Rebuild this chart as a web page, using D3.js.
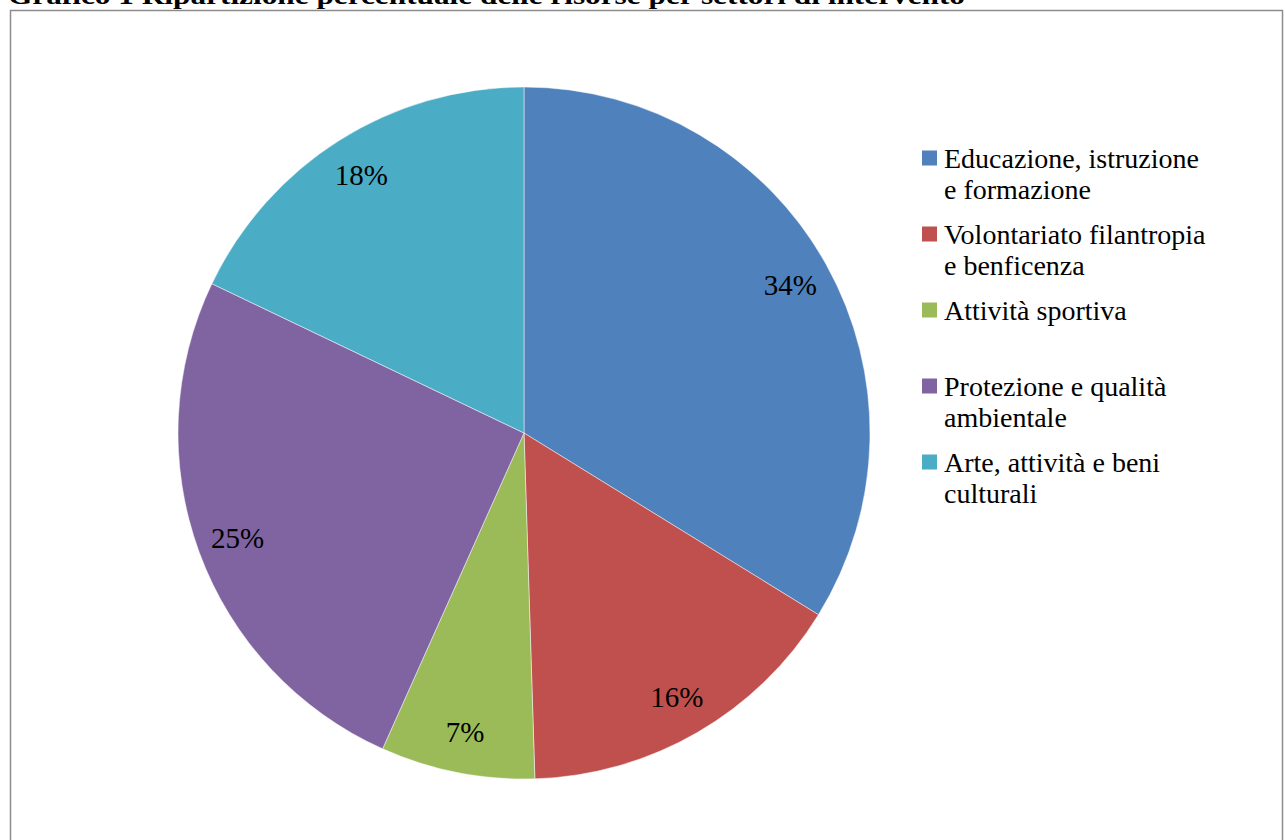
<!DOCTYPE html>
<html>
<head>
<meta charset="utf-8">
<script src="https://cdn.jsdelivr.net/npm/d3@7"></script>
<style>
  body { margin: 0; background: #fff; }
  svg { display: block; }
</style>
</head>
<body>
<div id="chart"></div>
<script>
// Data (shares in %)
const categories = [
  "Educazione, istruzione e formazione",
  "Volontariato filantropia e benficenza",
  "Attività sportiva",
  "Protezione e qualità ambientale",
  "Arte, attività e beni culturali"
];
const legendLines = [
  ["Educazione, istruzione", "e formazione"],
  ["Volontariato filantropia", "e benficenza"],
  ["Attività sportiva"],
  ["Protezione e qualità", "ambientale"],
  ["Arte, attività e beni", "culturali"]
];
const values = [33.8, 15.7, 7.2, 25.4, 17.9];
const percentLabels = ["34%", "16%", "7%", "25%", "18%"];
const colors = ["#4F81BD", "#C0504D", "#9BBB59", "#8064A2", "#4BACC6"];

const width = 1285;
const height = 840;
const serif = "'Liberation Serif', 'DejaVu Serif', serif";

const svg = d3.select("#chart")
  .append("svg")
    .attr("width", width)
    .attr("height", height);

// Title (cut off at the top in the original)
svg.append("text")
    .attr("x", 8)
    .attr("y", 4)
    .attr("textLength", 957)
    .attr("lengthAdjust", "spacingAndGlyphs")
    .style("font-family", serif)
    .style("font-weight", "bold")
    .style("font-size", "26px")
    .text("Grafico 1 Ripartizione percentuale delle risorse per settori di intervento");

// Chart area frame
svg.append("rect")
    .attr("x", 10.5)
    .attr("y", 10.5)
    .attr("width", 1272)
    .attr("height", 900)
    .attr("fill", "none")
    .attr("stroke", "#8c8c8c")
    .attr("stroke-width", 1.5);

const cx = 524, cy = 433, radius = 346;

const pie = d3.pie().sort(null).value(d => d);
const arcs = pie(values);
const arc = d3.arc().innerRadius(0).outerRadius(radius);
const labelArc = d3.arc().innerRadius(305).outerRadius(305);

const g = svg.append("g")
    .attr("transform", `translate(${cx},${cy})`);

g.selectAll("path")
  .data(arcs)
  .enter().append("path")
    .attr("d", arc)
    .attr("fill", (d, i) => colors[i])
    .attr("stroke", "#ffffff")
    .attr("stroke-opacity", 0.6)
    .attr("stroke-width", 0.8);

g.selectAll("text.pct")
  .data(arcs)
  .enter().append("text")
    .attr("class", "pct")
    .attr("transform", d => `translate(${labelArc.centroid(d)})`)
    .attr("text-anchor", "middle")
    .attr("dy", "0.35em")
    .style("font-family", serif)
    .style("font-size", "29px")
    .style("fill", "#000")
    .text((d, i) => percentLabels[i]);

// Legend
const legend = svg.append("g")
    .attr("transform", "translate(922,158)");

const item = legend.selectAll("g")
  .data(categories)
  .enter().append("g")
    .attr("transform", (d, i) => `translate(0,${i * 76})`);

item.append("rect")
    .attr("x", 0)
    .attr("y", -7.5)
    .attr("width", 15)
    .attr("height", 15)
    .attr("fill", (d, i) => colors[i]);

item.append("text")
    .style("font-family", serif)
    .style("font-size", "28px")
    .style("fill", "#000")
  .selectAll("tspan")
  .data((d, i) => legendLines[i])
  .enter().append("tspan")
    .attr("x", 22)
    .attr("y", (d, j) => j * 31)
    .attr("dy", "0.35em")
    .text(d => d);
</script>
</body>
</html>
